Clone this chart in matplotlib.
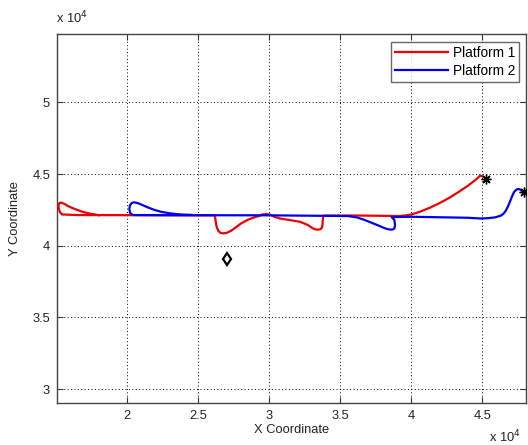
import matplotlib
matplotlib.use("Agg")
import matplotlib.pyplot as plt
from matplotlib.ticker import FuncFormatter, FixedLocator

plt.rcParams['font.family'] = ['Liberation Sans', 'DejaVu Sans']

# Platform 1 (red) trajectory, coordinates
p1_x = [18000, 17400, 16800, 16200, 15800, 15600, 15400, 15250, 15150, 15170,
        15250, 15400, 16500, 20400, 26000, 26120, 26180, 26220, 26280, 26400,
        26550, 26750, 27000, 27300, 27600, 28000, 28500, 29000, 29300, 29500,
        29800, 30000, 30400, 30750, 31500, 32160, 32700, 33000, 33200, 33400,
        33600, 33700, 33740, 33760, 33800, 36000, 39200, 39600, 40000, 40600,
        41300, 42000, 42700, 43400, 44000, 44500, 44840, 45000]
p1_y = [42130, 42230, 42380, 42600, 42780, 42900, 42990, 43000, 42850, 42600,
        42350, 42180, 42140, 42130, 42120, 42100, 42000, 41700, 41350, 41050,
        40900, 40860, 40900, 41040, 41250, 41550, 41820, 42000, 42080, 42180,
        42210, 42190, 42000, 41900, 41780, 41670, 41450, 41250, 41150, 41120,
        41150, 41260, 41450, 41800, 42100, 42110, 42070, 42120, 42180, 42370,
        42650, 42980, 43360, 43800, 44200, 44580, 44880, 44840]

# Platform 2 (blue) trajectory
p2_x = [24500, 24000, 23500, 23000, 22400, 21900, 21500, 21100, 20800, 20500,
        20300, 20180, 20140, 20200, 20400, 23000, 30000, 35500, 36150, 36700,
        37200, 37700, 38100, 38400, 38650, 38800, 38850, 38800, 38600, 40000,
        44000, 44840, 45400, 45900, 46300, 46500, 46650, 46800, 46950, 47100,
        47250, 47420, 47550, 47700, 47800, 47940]
p2_y = [42150, 42170, 42200, 42260, 42360, 42500, 42650, 42820, 42950, 43030,
        42980, 42800, 42550, 42280, 42140, 42130, 42120, 42070, 41980, 41800,
        41600, 41400, 41230, 41140, 41120, 41200, 41450, 41800, 42000, 42020,
        41950, 41900, 41920, 41980, 42100, 42250, 42450, 42750, 43100, 43480,
        43780, 43930, 43960, 43900, 43820, 43720]

# End markers and reference point
end_x = [45260, 47940]
end_y = [44630, 43720]
ref_x = [27000]
ref_y = [39050]

legend_labels = ['Platform 1', 'Platform 2']
x_ticks = [20000, 25000, 30000, 35000, 40000, 45000]
y_ticks = [30000, 35000, 40000, 45000, 50000]

fs = 9.3

fig = plt.figure(figsize=(5.28, 4.45), dpi=100)
ax = fig.add_axes([0.108, 0.095, 0.888, 0.829])

ax.plot(p1_x, p1_y, color='#ee0000', lw=1.6, label=legend_labels[0], zorder=3,
        solid_joinstyle='round')
ax.plot(p2_x, p2_y, color='#0000ee', lw=1.6, label=legend_labels[1], zorder=4,
        solid_joinstyle='round')
ax.plot(end_x, end_y, linestyle='none', marker=(8, 2, 0), ms=7, mec='black',
        mew=1.0, zorder=5)
ax.plot(ref_x, ref_y, linestyle='none', marker='d', ms=6, mfc='white',
        mec='black', mew=1.6, zorder=5)

ax.set_xlim(15050, 48060)
ax.set_ylim(29050, 54780)

ax.xaxis.set_major_locator(FixedLocator(x_ticks))
ax.yaxis.set_major_locator(FixedLocator(y_ticks))
fmt = FuncFormatter(lambda v, p: '%g' % (v / 1e4))
ax.xaxis.set_major_formatter(fmt)
ax.yaxis.set_major_formatter(fmt)

ax.grid(True, color='black', linestyle=(0, (1, 2.5)), lw=0.7)
ax.tick_params(direction='in', length=4, width=0.8, top=True, right=True,
               labelsize=fs, colors='#333333', labelcolor='#222222', pad=5)
for s in ax.spines.values():
    s.set_color('#444444')
    s.set_linewidth(1.0)

ax.set_xlabel('X Coordinate', fontsize=fs, color='#222222', labelpad=2)
ax.set_ylabel('Y Coordinate', fontsize=fs, color='#222222', labelpad=8)

fig.text(56 / 528, 1 - 18 / 445, r'x 10$^{4}$', fontsize=fs, color='#222222',
         ha='left', va='center')
fig.text(489 / 528, 1 - 437 / 445, r'x 10$^{4}$', fontsize=fs, color='#222222',
         ha='left', va='center')

leg = ax.legend(loc='upper right', bbox_to_anchor=(0.985, 0.978), fontsize=9.8,
                frameon=True, fancybox=False, edgecolor='#444444',
                handlelength=3.9, handletextpad=0.3, borderpad=0.3,
                labelspacing=0.3, borderaxespad=0)
leg.get_frame().set_linewidth(1.0)

fig.savefig('out.png', dpi=100)
